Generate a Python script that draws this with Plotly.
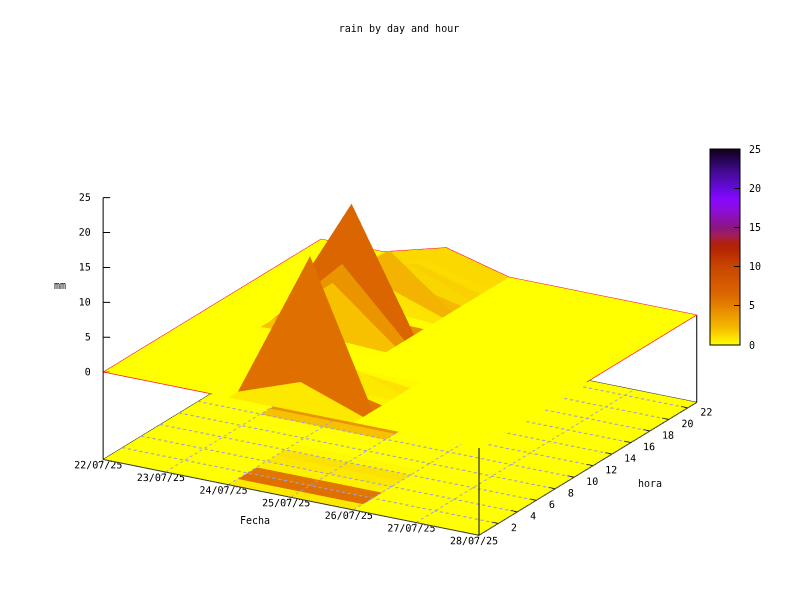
import numpy as np
import plotly.graph_objects as go

days = ["22/07/25", "23/07/25", "24/07/25", "25/07/25", "26/07/25", "27/07/25", "28/07/25"]
hours = list(range(24))
hour_ticks = list(range(2, 23, 2))
mm_ticks = [0, 5, 10, 15, 20, 25]
z_floor = -12.5
z_top = 25

# rain (mm) per day, one list of 24 hourly values for each date
rain_22 = [0] * 24
rain_23 = [0] * 24
rain_24 = [0, 0, 0, 0, 0, 0, 0, 0, 0, 0, 0.4, 7.3, 9.2, 17, 0.3, 0.6, 3.1, 7, 2, 3.4, 2.6, 2.2, 2.8, 2.4]
rain_25 = [0, 3.2, 20.4, 2, 0, 3, 1, 0, 0, 0, 0, 0, 0, 0, 0, 0, 0, 0, 0, 0, 0, 0, 0, 0]
rain_26 = [0] * 24
rain_27 = [0] * 24
rain_28 = [0] * 24
rain = np.array([rain_22, rain_23, rain_24, rain_25, rain_26, rain_27, rain_28], dtype=float)

colorscale = [
    [0.00, "#ffff00"], [0.04, "#fce100"], [0.08, "#f6be00"], [0.17, "#e99100"],
    [0.20, "#e48000"], [0.26, "#dc6600"], [0.40, "#c84600"], [0.48, "#b82800"],
    [0.52, "#b02010"], [0.56, "#a01e5a"], [0.60, "#8c1482"], [0.68, "#8c0fd2"],
    [0.74, "#8808ff"], [0.80, "#640adc"], [0.88, "#460a96"], [0.94, "#28055a"],
    [1.00, "#0f0014"],
]

FONT = "DejaVu Sans Mono"
TEXT = dict(family=FONT, size=10, color="black")
GRID = "#a0a0d8"
RED = "#ff1030"
NB = "\u00a0"
nt, nh = rain.shape
T, H = np.meshgrid(np.arange(nt), np.array(hours), indexing="ij")


def quads():
    vid = lambda a, b: a * nh + b
    flat = rain.ravel()
    ii, jj, kk, val = [], [], [], []
    for a in range(nt - 1):
        for b in range(nh - 1):
            p = [vid(a, b), vid(a + 1, b), vid(a + 1, b + 1), vid(a, b + 1)]
            m = flat[p].mean()
            s = int(np.argmax(flat[p]))
            if s == 0 and m > 0:
                q = [p[1], p[2], p[3], p[0]]   # diagonal away from the high corner
            else:
                q = p[s:] + p[:s]
            ii += [q[0], q[0]]
            jj += [q[1], q[2]]
            kk += [q[2], q[3]]
            val += [m, m]
    return ii, jj, kk, val


def mesh(zv, show):
    ii, jj, kk, val = quads()
    return go.Mesh3d(
        x=T.ravel(), y=H.ravel(), z=zv.ravel(), i=ii, j=jj, k=kk,
        intensity=val, intensitymode="cell", colorscale=colorscale, cmin=0, cmax=z_top,
        flatshading=True, hoverinfo="skip", showscale=show,
        lighting=dict(ambient=1, diffuse=0, specular=0, fresnel=0, roughness=1),
        colorbar=dict(
            x=710 / 800, xanchor="left", xpad=0, y=1 - 247 / 600, yanchor="middle", ypad=0,
            len=196, lenmode="pixels", thickness=30, thicknessmode="pixels",
            tickmode="array", tickvals=mm_ticks, ticktext=[NB + str(v) for v in mm_ticks],
            ticks="inside", ticklen=6, tickcolor="black",
            outlinecolor="black", outlinewidth=1, tickfont=TEXT,
        ),
    )


def line(x, y, z, color="black", width=2):
    return go.Scatter3d(x=x, y=y, z=z, mode="lines", hoverinfo="skip", showlegend=False,
                        line=dict(color=color, width=width))


def labels(x, y, z, text, position):
    return go.Scatter3d(x=x, y=y, z=z, mode="text", text=text, textposition=position,
                        textfont=TEXT, hoverinfo="skip", showlegend=False)


def grid_mesh():
    """Dotted floor grid as one mesh of thin dashes, so it sits correctly in the depth buffer."""
    zg = z_floor + 0.04
    xs, ys, ii, jj, kk = [], [], [], [], []

    def dash(x0, x1, y0, y1):
        n = len(xs)
        xs.extend([x0, x1, x1, x0])
        ys.extend([y0, y0, y1, y1])
        ii.extend([n, n])
        jj.extend([n + 1, n + 2])
        kk.extend([n + 2, n + 3])

    w_h, w_t = 0.16, 0.022
    for a in range(1, nt - 1):
        edges = np.linspace(0, 23, 46)
        for e0, e1 in zip(edges[:-1], edges[1:]):
            dash(a - w_t / 2, a + w_t / 2, e0, e0 + (e1 - e0) * 0.5)
    for b in hour_ticks:
        edges = np.linspace(0, 6, 66)
        for e0, e1 in zip(edges[:-1], edges[1:]):
            dash(e0, e0 + (e1 - e0) * 0.5, b - w_h / 2, b + w_h / 2)
    return go.Mesh3d(x=xs, y=ys, z=[zg] * len(xs), i=ii, j=jj, k=kk, color=GRID, flatshading=True,
                     hoverinfo="skip", lighting=dict(ambient=1, diffuse=0, specular=0, fresnel=0, roughness=1))


fig = go.Figure()
fig.add_trace(mesh(np.full_like(rain, z_floor), True))
fig.add_trace(mesh(rain, False))
fig.add_trace(grid_mesh())

# border lines
fig.add_trace(line([0, 0], [0, 0], [z_floor, z_top]))
fig.add_trace(line([6, 6], [0, 0], [z_floor, 0]))
fig.add_trace(line([6, 6], [23, 23], [z_floor, 0]))
fig.add_trace(line([0, 6, 6, 0, 0], [0, 0, 23, 23, 0], [z_floor] * 5, "#303030", 2))

# z axis ticks at the left corner, hour ticks along the right floor edge
for v in mm_ticks:
    fig.add_trace(line([0, 0.084], [0, 0.184], [v, v]))
for h in hour_ticks:
    fig.add_trace(line([6, 5.9], [h, h], [z_floor + 0.04] * 2))

# tick labels, horizontal and next to their ticks
fig.add_trace(labels([-0.05] * len(mm_ticks), [0] * len(mm_ticks), mm_ticks,
                     [f"{v}{NB}{NB}" for v in mm_ticks], "middle left"))
fig.add_trace(labels([a - 0.08 for a in range(nt)], [0] * nt, [z_floor + 1.08] * nt,
                     days, "bottom center"))
fig.add_trace(labels([6.06] * len(hour_ticks), hour_ticks, [z_floor + 1.55] * len(hour_ticks),
                     [f"{NB}{h}" for h in hour_ticks], "bottom right"))

# red surface outline, visible only outside the floor
fig.add_trace(line(list(T[:, -1]), list(H[:, -1]), list(rain[:, -1] + 0.02), RED, 1.5))
fig.add_trace(line(list(T[0, :]), list(H[0, :]), list(rain[0, :] + 0.02), RED, 1.5))
fig.add_trace(line([0, 1.74], [0, 0], [0.02, 0.02], RED, 1.5))
fig.add_trace(line([6, 6], [23, 11.4], [0.02, 0.02], RED, 1.5))

k = 1.384
eye = dict(x=0.467 * k, y=-0.812 * k, z=0.351 * k)
axis_common = dict(
    showgrid=False, zeroline=False, showline=False, showbackground=False, showspikes=False,
    ticks="inside", ticklen=6, tickcolor="black", showticklabels=False,
    title=dict(text=""),
)
S = 1.445
pad_t, pad_h, pad_z = 0.1, 0.04, 0.05
fig.update_layout(
    width=800, height=600, margin=dict(l=0, r=0, t=0, b=0), paper_bgcolor="white",
    showlegend=False,
    title=dict(text="rain by day and hour", x=399 / 800, xanchor="center", y=1 - 28 / 600, yanchor="middle",
               font=TEXT),
    scene=dict(
        domain=dict(x=[0, 1], y=[0, 1]),
        aspectmode="manual",
        aspectratio=dict(x=S * (6 + 2 * pad_t) / 6, y=1.008 * S * (23 + 2 * pad_h) / 23,
                         z=0.645 * S * (37.5 + 2 * pad_z) / 37.5),
        camera=dict(eye=eye, up=dict(x=0, y=0, z=1), center=dict(x=0, y=0, z=0),
                    projection=dict(type="orthographic")),
        xaxis=dict(axis_common, range=[-pad_t, 6 + pad_t], tickvals=list(range(nt))),
        yaxis=dict(axis_common, range=[-pad_h, 23 + pad_h], ticks=""),
        zaxis=dict(axis_common, range=[z_floor - pad_z, z_top + pad_z], ticks=""),
    ),
    annotations=[
        dict(text="Fecha", x=255 / 800, y=1 - 520 / 600, xref="paper", yref="paper", showarrow=False,
             xanchor="center", yanchor="middle", font=TEXT),
        dict(text="hora", x=650 / 800, y=1 - 483 / 600, xref="paper", yref="paper", showarrow=False,
             xanchor="center", yanchor="middle", font=TEXT),
        dict(text="mm", x=60 / 800, y=1 - 285 / 600, xref="paper", yref="paper", showarrow=False,
             xanchor="center", yanchor="middle", font=TEXT),
    ],
)
fig.write_html("out.html", post_script="document.body.style.margin='0';",
               config=dict(displayModeBar=False))
